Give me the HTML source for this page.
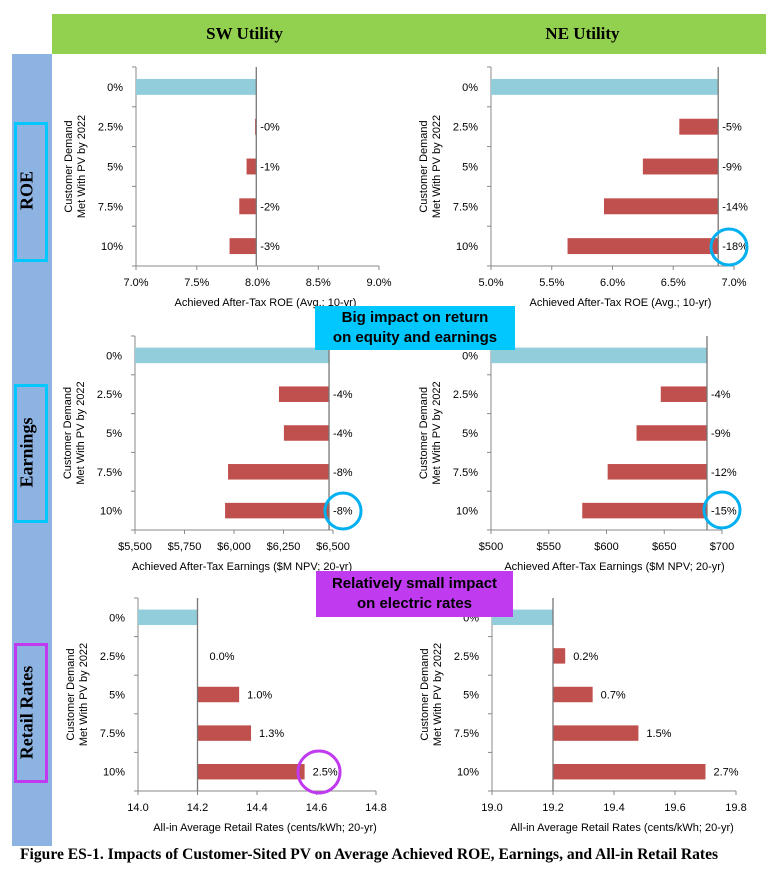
<!DOCTYPE html>
<html><head><meta charset="utf-8"><style>
body{margin:0;background:#fff;width:766px;height:874px;overflow:hidden;position:relative;font-family:"Liberation Sans",sans-serif}
.abs{position:absolute}
</style></head><body>
<div class="abs" style="left:52px;top:14px;width:714px;height:40px;background:#92d050"></div>
<div class="abs" style="left:52px;top:24px;width:385px;text-align:center;font:bold 17px 'Liberation Serif',serif">SW Utility</div>
<div class="abs" style="left:420px;top:24px;width:325px;text-align:center;font:bold 17px 'Liberation Serif',serif">NE Utility</div>
<div class="abs" style="left:12px;top:54px;width:40px;height:792px;background:#8db3e2"></div>
<div class="abs" style="left:14px;top:122px;width:28px;height:134px;border:3px solid #00c8ff"></div>
<div class="abs" style="left:14px;top:384px;width:28px;height:133px;border:3px solid #00c8ff"></div>
<div class="abs" style="left:14px;top:643px;width:28px;height:134px;border:3px solid #c03af0"></div>
<div class="abs" style="left:-40px;top:180px;width:134px;text-align:center;transform:rotate(-90deg);font:bold 18px 'Liberation Serif',serif">ROE</div>
<div class="abs" style="left:-40px;top:442px;width:134px;text-align:center;transform:rotate(-90deg);font:bold 18px 'Liberation Serif',serif">Earnings</div>
<div class="abs" style="left:-40px;top:702px;width:134px;text-align:center;transform:rotate(-90deg);font:bold 18px 'Liberation Serif',serif">Retail Rates</div>

<svg id="chart" class="abs" style="left:0;top:0" width="766" height="874"></svg>

<div class="abs" style="left:315px;top:306px;width:200px;height:44px;background:#00c8ff;text-align:center;font:bold 15px 'Liberation Sans',sans-serif;line-height:20px;padding-top:2px;box-sizing:border-box">Big impact on return<br>on equity and earnings</div>
<div class="abs" style="left:316px;top:571px;width:197px;height:46px;background:#c03af0;text-align:center;font:bold 15px 'Liberation Sans',sans-serif;line-height:20px;padding-top:3px;box-sizing:border-box">Relatively small impact<br>on electric rates</div>
<div class="abs" style="left:20px;top:846px;font:bold 15.6px 'Liberation Serif',serif;white-space:nowrap">Figure ES-1. Impacts of Customer-Sited PV on Average Achieved ROE, Earnings, and All-in Retail Rates</div>

<script>
const categories=["0%","2.5%","5%","7.5%","10%"];
const swRoeValues=[7.99,7.98,7.91,7.85,7.77];
const swRoeLabels=["","-0%","-1%","-2%","-3%"];
const swRoeTicks=["7.0%","7.5%","8.0%","8.5%","9.0%"];
const swRoeTickVals=[7.0,7.5,8.0,8.5,9.0];
const neRoeValues=[6.87,6.55,6.25,5.93,5.63];
const neRoeLabels=["","-5%","-9%","-14%","-18%"];
const neRoeTicks=["5.0%","5.5%","6.0%","6.5%","7.0%"];
const neRoeTickVals=[5.0,5.5,6.0,6.5,7.0];
const swEarnValues=[6480,6227,6252,5970,5955];
const swEarnLabels=["","-4%","-4%","-8%","-8%"];
const swEarnTicks=["$5,500","$5,750","$6,000","$6,250","$6,500"];
const swEarnTickVals=[5500,5750,6000,6250,6500];
const neEarnValues=[687,647,626,601,579];
const neEarnLabels=["","-4%","-9%","-12%","-15%"];
const neEarnTicks=["$500","$550","$600","$650","$700"];
const neEarnTickVals=[500,550,600,650,700];
const swRateValues=[14.2,14.2,14.34,14.38,14.56];
const swRateLabels=["","0.0%","1.0%","1.3%","2.5%"];
const swRateTicks=["14.0","14.2","14.4","14.6","14.8"];
const swRateTickVals=[14.0,14.2,14.4,14.6,14.8];
const neRateValues=[19.2,19.24,19.33,19.48,19.70];
const neRateLabels=["","0.2%","0.7%","1.5%","2.7%"];
const neRateTicks=["19.0","19.2","19.4","19.6","19.8"];
const neRateTickVals=[19.0,19.2,19.4,19.6,19.8];

const svg=document.getElementById('chart');
const NS='http://www.w3.org/2000/svg';
function mk(tag,attrs,parent){const e=document.createElementNS(NS,tag);for(const k in attrs)e.setAttribute(k,attrs[k]);(parent||svg).appendChild(e);return e;}
function txt(x,y,s,anchor,size,parent){const t=mk('text',{x:x,y:y,'text-anchor':anchor,'font-size':size,'font-family':'Liberation Sans, sans-serif',fill:'#000'},parent);t.textContent=s;return t;}

function drawChart(name,x0,x1,y0,y1,tickVals,tickLabels,values,labels,title,rateMode){
  const g=mk('g',{});
  
  
  const vmin=tickVals[0],vmax=tickVals[tickVals.length-1];
  const sx=v=>x0+(v-vmin)/(vmax-vmin)*(x1-x0);
  const band=(y1-y0)/categories.length;
  const cy=i=>y0+band*(i+0.5);
  mk('line',{x1:x0,y1:y0,x2:x0,y2:y1,stroke:'#888','stroke-width':1},g);
  mk('line',{x1:x0,y1:y1,x2:x1,y2:y1,stroke:'#888','stroke-width':1},g);
  for(let i=0;i<=categories.length;i++){const yy=y0+band*i;mk('line',{x1:x0-4,y1:yy,x2:x0,y2:yy,stroke:'#888'},g);}
  tickVals.forEach((v,i)=>{mk('line',{x1:sx(v),y1:y1,x2:sx(v),y2:y1+4,stroke:'#888'},g);
    const t=txt(sx(v),y1+20,tickLabels[i],'middle',11,g);
    
    });
  const base=values[0];
  const h=band*0.4;
  categories.forEach((c,i)=>{
    const t=txt(x0-13,cy(i)+4,c,'end',11,g);
    
    
    let a,b,col;
    if(i===0){a=vmin;b=base;col='#92cddc';}
    else{a=Math.min(base,values[i]);b=Math.max(base,values[i]);col='#c0504d';}
    if(b>a){const r=mk('rect',{x:sx(a),y:cy(i)-h/2,width:sx(b)-sx(a),height:h,fill:col},g);
      
      }
    if(i>0){const lx=rateMode?Math.max(sx(values[i]),sx(base)+6)+(values[i]>base?8:6):sx(base)+4;
      const lt=txt(lx,cy(i)+4,labels[i],'start',11,g);
      
      }
  });
  mk('line',{x1:sx(base),y1:y0,x2:sx(base),y2:y1,stroke:'#777','stroke-width':1.3},g);
  const tt=txt((x0+x1)/2+8,y1+40,title,'middle',11,g);
  
  
  const yt=mk('text',{transform:`translate(${x0-62},${(y0+y1)/2}) rotate(-90)`,'text-anchor':'middle','font-size':11,'font-family':'Liberation Sans, sans-serif'},g);
  
  
  const s1=mk('tspan',{x:0,dy:'-0.2em'},yt);s1.textContent='Customer Demand';
  const s2=mk('tspan',{x:0,dy:'1.2em'},yt);s2.textContent='Met With PV by 2022';
}
drawChart('sw-roe-chart',136,379,67,266,swRoeTickVals,swRoeTicks,swRoeValues,swRoeLabels,'Achieved After-Tax ROE (Avg.; 10-yr)',false);
drawChart('ne-roe-chart',491,734,67,266,neRoeTickVals,neRoeTicks,neRoeValues,neRoeLabels,'Achieved After-Tax ROE (Avg.; 10-yr)',false);
drawChart('sw-earnings-chart',135,333,336,530,swEarnTickVals,swEarnTicks,swEarnValues,swEarnLabels,'Achieved After-Tax Earnings ($M NPV; 20-yr)',false);
drawChart('ne-earnings-chart',491,722,336,530,neEarnTickVals,neEarnTicks,neEarnValues,neEarnLabels,'Achieved After-Tax Earnings ($M NPV; 20-yr)',false);
drawChart('sw-rates-chart',138,376,598,791,swRateTickVals,swRateTicks,swRateValues,swRateLabels,'All-in Average Retail Rates (cents/kWh; 20-yr)',true);
drawChart('ne-rates-chart',492,736,598,791,neRateTickVals,neRateTicks,neRateValues,neRateLabels,'All-in Average Retail Rates (cents/kWh; 20-yr)',true);

[[729,247,18,'#00b0f0'],[343,511,18,'#00b0f0'],[722,510,18,'#00b0f0'],[319,772,21,'#c03af0']].forEach((c,i)=>{
  const e=mk('circle',{cx:c[0],cy:c[1],r:c[2],fill:'none',stroke:c[3],'stroke-width':3});
  
  
});
</script>
</body></html>
